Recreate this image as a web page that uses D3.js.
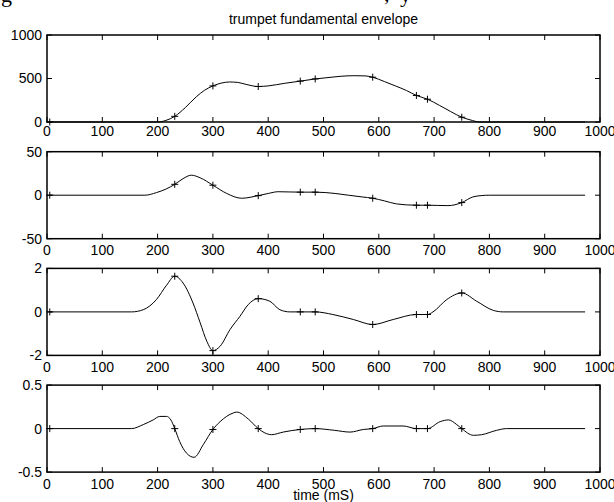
<!DOCTYPE html>
<html>
<head>
<meta charset="utf-8">
<script src="https://cdn.jsdelivr.net/npm/d3@7"></script>
<style>
    body { margin: 0; background: #fff; }
    svg { display: block; }
    text { font-family: "Liberation Sans", Arial, sans-serif; fill: #000; }
</style>
</head>
<body>
<div id="chart"></div>
<script>
// time (mS) of the marked points, same for every panel
const markerTimes = [5, 231, 300, 382, 458, 485, 589, 668, 688, 750];

// envelope
const envelopeLine = [[5, 0], [200, 0], [215, 18], [231, 65], [250, 165], [270, 290], [285, 365], [300, 415],
    [315, 447], [330, 460], [345, 455], [360, 432], [382, 408], [400, 415], [430, 445], [458, 470], [485, 495],
    [510, 512], [530, 525], [555, 532], [575, 530], [589, 515], [610, 465], [630, 415], [650, 362], [668, 305],
    [688, 262], [710, 190], [730, 120], [750, 55], [765, 25], [783, 0], [973, 0]];
const envelopeMarks = [0, 65, 415, 408, 470, 495, 515, 305, 262, 55];

// first derivative
const slopeLine = [[5, 0], [177, 0], [198, 3], [215, 7], [231, 12.5], [246, 19], [261, 23], [277, 20],
    [300, 11.5], [325, 2], [352, -3.5], [382, -0.5], [400, 2], [418, 4], [458, 3.5], [485, 3.5], [521, 2],
    [545, 0], [570, -2], [589, -3.5], [610, -6.5], [632, -10], [668, -11.5], [688, -11.5], [725, -12],
    [750, -8.5], [770, -2], [785, -0.5], [800, 0], [973, 0]];
const slopeMarks = [0, 12.5, 11.5, -0.5, 3.5, 3.5, -3.5, -11.5, -11.5, -8.5];

// second derivative
const curveLine = [[5, 0], [153, 0], [174, 0.1], [198, 0.57], [216, 1.22], [231, 1.64], [246, 1.33],
    [264, 0.41], [277, -0.5], [289, -1.35], [300, -1.78], [313, -1.58], [331, -0.81], [349, -0.2], [364, 0.34],
    [382, 0.61], [403, 0.49], [421, 0.1], [439, 0], [458, 0], [485, 0], [517, -0.12], [554, -0.35], [589, -0.58],
    [626, -0.35], [668, -0.12], [688, -0.12], [698, 0], [723, 0.57], [750, 0.87], [777, 0.49], [807, 0.07],
    [825, 0], [973, 0]];
const curveMarks = [0, 1.64, -1.78, 0.61, 0, 0, -0.58, -0.12, -0.12, 0.87];

// third derivative
const jerkLine = [[5, 0], [153, 0], [174, 0.046], [192, 0.1], [204, 0.14], [216, 0.14], [224, 0.1], [231, 0],
    [240, -0.15], [252, -0.28], [266, -0.33], [283, -0.18], [300, -0.01], [313, 0.08], [337, 0.18], [343, 0.19],
    [364, 0.11], [382, 0], [394, -0.05], [406, -0.07], [427, -0.04], [458, -0.01], [485, 0], [520, -0.02],
    [548, -0.04], [572, -0.01], [589, 0], [608, 0.03], [644, 0.03], [668, 0], [688, 0], [711, 0.08], [726, 0.1],
    [741, 0.046], [750, 0], [771, -0.077], [786, -0.07], [813, -0.02], [831, 0], [973, 0]];
const jerkMarks = [0, 0, -0.01, 0, -0.01, 0, 0, 0, 0, 0];

const xTicks = [0, 100, 200, 300, 400, 500, 600, 700, 800, 900, 1000];
const yDomains = [[0, 1000], [-50, 50], [-2, 2], [-0.5, 0.5]];
const yTicks = [[0, 500, 1000], [-50, 0, 50], [-2, 0, 2], [-0.5, 0, 0.5]];

const titleText = 'trumpet fundamental envelope';
const xLabelText = 'time (mS)';

const panels = [
    {line: envelopeLine, marks: envelopeMarks},
    {line: slopeLine, marks: slopeMarks},
    {line: curveLine, marks: curveMarks},
    {line: jerkLine, marks: jerkMarks},
];

const width = 614, height = 502;
const left = 47, right = 600;
const firstTop = 35, panelStep = 116.7, panelHeight = 87;
const tickLen = 5, crossHalf = 3.5;

const svg = d3.select('#chart').append('svg')
    .attr('width', width)
    .attr('height', height);

// fragments of the caption cut off above the figure
svg.append('text').attr('x', 1).attr('y', 2)
    .style('font-family', '"Liberation Serif", serif').style('font-size', '22px').text('g');
svg.append('text').attr('x', 384).attr('y', 1)
    .style('font-family', '"Liberation Serif", serif').style('font-size', '22px').text(',');
svg.append('text').attr('x', 400).attr('y', 2)
    .style('font-family', '"Liberation Serif", serif').style('font-size', '22px').text('y');

const x = d3.scaleLinear().domain([0, 1000]).range([left, right]);

svg.append('text')
    .attr('x', (left + right) / 2)
    .attr('y', 24)
    .attr('text-anchor', 'middle')
    .style('font-size', '14px')
    .text(titleText);

panels.forEach((p, i) => {
    const top = firstTop + i * panelStep;
    const bottom = top + panelHeight;
    const y = d3.scaleLinear().domain(yDomains[i]).range([bottom, top]);
    const g = svg.append('g');

    // data line
    g.append('path')
        .datum(p.line)
        .attr('fill', 'none')
        .attr('stroke', '#000')
        .attr('stroke-width', 1)
        .attr('d', d3.line().x(d => x(d[0])).y(d => y(d[1])).curve(d3.curveMonotoneX));

    // + markers
    g.selectAll('path.mark')
        .data(markerTimes.map((t, k) => [t, p.marks[k]]))
        .enter().append('path')
        .attr('class', 'mark')
        .attr('fill', 'none')
        .attr('stroke', '#000')
        .attr('stroke-width', 1)
        .attr('d', d => {
            const cx = x(d[0]), cy = y(d[1]);
            return `M${cx - crossHalf},${cy}H${cx + crossHalf}M${cx},${cy - crossHalf}V${cy + crossHalf}`;
        });

    // frame
    g.append('rect')
        .attr('x', left)
        .attr('y', top)
        .attr('width', right - left)
        .attr('height', panelHeight)
        .attr('fill', 'none')
        .attr('stroke', '#000')
        .attr('stroke-width', 1.5);

    // inward ticks on all four sides
    g.selectAll('line.xt')
        .data(xTicks)
        .enter().append('path')
        .attr('stroke', '#000')
        .attr('d', t => `M${x(t)},${bottom}V${bottom - tickLen}M${x(t)},${top}V${top + tickLen}`);

    g.selectAll('line.yt')
        .data(yTicks[i])
        .enter().append('path')
        .attr('stroke', '#000')
        .attr('d', t => `M${left},${y(t)}H${left + tickLen}M${right},${y(t)}H${right - tickLen}`);

    // tick labels
    const labelDy = i === 0 ? 13.5 : 16.5;
    g.selectAll('text.xl')
        .data(xTicks)
        .enter().append('text')
        .attr('x', t => x(t))
        .attr('y', bottom + labelDy)
        .attr('text-anchor', 'middle')
        .style('font-size', '14px')
        .text(t => t);

    g.selectAll('text.yl')
        .data(yTicks[i])
        .enter().append('text')
        .attr('x', left - 5)
        .attr('y', t => y(t))
        .attr('dy', '0.35em')
        .attr('text-anchor', 'end')
        .style('font-size', '14px')
        .text(t => t);
});

svg.append('text')
    .attr('x', (left + right) / 2)
    .attr('y', 500)
    .attr('text-anchor', 'middle')
    .style('font-size', '14px')
    .text(xLabelText);
</script>
</body>
</html>
